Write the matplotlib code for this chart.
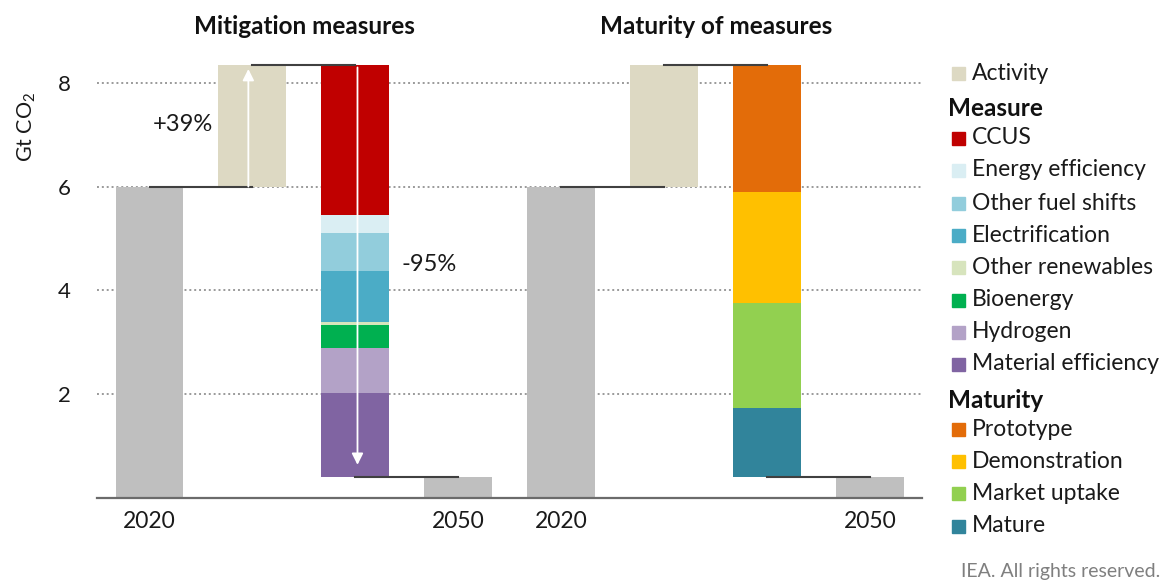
import matplotlib
matplotlib.use("Agg")
import matplotlib.pyplot as plt
import matplotlib.transforms as mtransforms
from matplotlib.patches import Rectangle

# ---------------- data ----------------
year_labels = ["2020", "2050"]
emissions_2020 = 6.0
activity_2050 = 8.35
emissions_2050 = 0.40
increase_label = "+39%"
decrease_label = "-95%"

measure_names = ["CCUS", "Energy efficiency", "Other fuel shifts", "Electrification",
                 "Other renewables", "Bioenergy", "Hydrogen", "Material efficiency"]
measure_values = [2.89, 0.35, 0.74, 0.98, 0.06, 0.45, 0.86, 1.62]
measure_colors = ["#C00000", "#DAEEF3", "#92CDDC", "#4BACC6",
                  "#D7E4BD", "#00B050", "#B3A2C7", "#8064A2"]

maturity_names = ["Prototype", "Demonstration", "Market uptake", "Mature"]
maturity_values = [2.45, 2.14, 2.03, 1.33]
maturity_colors = ["#E36C09", "#FFC000", "#92D050", "#31849B"]

panel_titles = ["Mitigation measures", "Maturity of measures"]
yticks = [2, 4, 6, 8]

gray = "#BFBFBF"
activity_color = "#DDD9C3"
FONT = "Lato"
plt.rcParams["font.family"] = [FONT, "DejaVu Sans"]
plt.rcParams["mathtext.default"] = "regular"

W, H = 1166, 581
fig = plt.figure(figsize=(W / 100, H / 100), dpi=100)

# axes placement (pixels)
ax_left, ax_right = 97, 921.7
y0_px, y8_px = 497.5, 83
ppu = (y0_px - y8_px) / 8
ymax = 8.6
ax = fig.add_axes([ax_left / W, (H - y0_px) / H, (ax_right - ax_left) / W, ymax * ppu / H])
ax.set_xlim(-0.51, 7.5)
ax.set_ylim(0, ymax)

TXT = "#1a1a1a"
bw = 0.66
for off, vals, cols in [(0, measure_values, measure_colors),
                        (4, maturity_values, maturity_colors)]:
    ax.bar(off + 0, emissions_2020, width=bw, color=gray, zorder=2)
    ax.bar(off + 1, activity_2050 - emissions_2020, bottom=emissions_2020, width=bw,
           color=activity_color, zorder=2)
    top = activity_2050
    for v, c in zip(vals, cols):
        ax.bar(off + 2, v, bottom=top - v, width=bw, color=c, zorder=2)
        top -= v
    ax.bar(off + 3, emissions_2050, width=bw, color=gray, zorder=2)
    lc = "#404040"
    ax.plot([off + 0, off + 1], [emissions_2020] * 2, color=lc, lw=1.5, zorder=3)
    ax.plot([off + 1, off + 2], [activity_2050] * 2, color=lc, lw=1.5, zorder=3)
    ax.plot([off + 2, off + 3], [emissions_2050] * 2, color=lc, lw=1.5, zorder=3)

# arrows in left panel
ax.annotate("", xy=(0.96, 8.27), xytext=(0.96, emissions_2020),
            arrowprops=dict(arrowstyle="-|>", color="white", lw=1.3, mutation_scale=17,
                            shrinkA=0, shrinkB=0), zorder=4)
ax.annotate("", xy=(2.02, 0.63), xytext=(2.02, 8.3),
            arrowprops=dict(arrowstyle="-|>", color="white", lw=1.3, mutation_scale=17,
                            shrinkA=0, shrinkB=0), zorder=4)
ax.text(0.62, 7.19, increase_label, ha="right", va="center", fontsize=17, color=TXT)
ax.text(2.45, 4.49, decrease_label, ha="left", va="center", fontsize=17, color=TXT)

# grid
for y in yticks:
    ax.axhline(y, color="#9a9a9a", lw=1.4, linestyle=(0, (1, 1.5)), zorder=0)

ax.set_yticks(yticks)
ax.set_yticklabels([str(t) for t in yticks], fontsize=16, color=TXT)
ax.tick_params(axis="y", length=0, pad=19)
ax.set_xticks([0, 3, 4, 7])
ax.set_xticklabels([year_labels[0], year_labels[1], year_labels[0], year_labels[1]],
                   fontsize=16.5, color=TXT)
ax.tick_params(axis="x", length=0, pad=10)
for s in ["top", "right", "left"]:
    ax.spines[s].set_visible(False)
ax.spines["bottom"].set_color("#6b6b6b")
ax.spines["bottom"].set_linewidth(1.6)

# titles
tr = mtransforms.blended_transform_factory(ax.transData, fig.transFigure)
for x, t in zip([1.5, 5.5], panel_titles):
    ax.text(x, 1 - 27 / H, t, transform=tr, ha="center", va="center",
            fontsize=17.5, fontweight="bold", color="#111111")

# y label
fig.text(27 / W, 1 - 127 / H, "Gt CO$_2$", rotation=90, ha="center", va="center",
         fontsize=15.5, color=TXT)

# legend (manual)
def fx(px):
    return px / W

def fy(py):
    return 1 - py / H

rows = [("item", "Activity", activity_color), ("header", "Measure", None)]
rows += [("item", n, c) for n, c in zip(measure_names, measure_colors)]
rows += [("header", "Maturity", None)]
rows += [("item", n, c) for n, c in zip(maturity_names, maturity_colors)]
row_y = [73, 109, 138, 170, 203, 235, 267, 300, 332, 364, 401, 429, 461, 493, 526]
for (kind, name, col), yy in zip(rows, row_y):
    if kind == "header":
        fig.text(fx(948), fy(yy), name, ha="left", va="center", fontsize=17.5,
                 fontweight="bold", color="#111111")
    else:
        fig.patches.append(Rectangle((fx(952), fy(yy + 6.5)), 13 / W, 13 / H,
                                     transform=fig.transFigure, color=col, figure=fig))
        fig.text(fx(972), fy(yy), name, ha="left", va="center", fontsize=16.5, color=TXT)

fig.text(fx(961), fy(571), "IEA. All rights reserved.", ha="left", va="center",
         fontsize=14, color="#7f7f7f")

fig.savefig("out.png", dpi=100)
